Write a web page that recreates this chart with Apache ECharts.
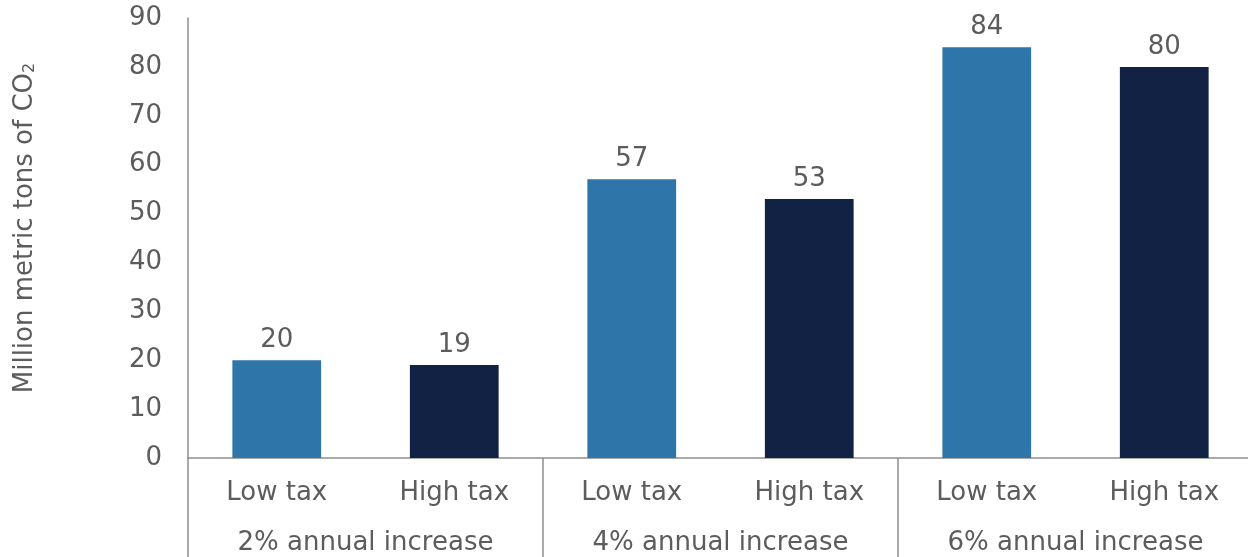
<!DOCTYPE html>
<html>
<head>
<meta charset="utf-8">
<script src="https://cdn.jsdelivr.net/npm/echarts@6/dist/echarts.min.js"></script>
<style>
  html, body { margin: 0; padding: 0; background: #ffffff; }
  #chart { width: 1248px; height: 557px; }
</style>
</head>
<body>
<div id="chart"></div>
<script>
// Scenario categories and emissions values (million metric tons of CO2)
const taxLevels = ['Low tax', 'High tax', 'Low tax', 'High tax', 'Low tax', 'High tax'];
const growthScenarios = ['2% annual increase', '4% annual increase', '6% annual increase'];
const emissions = [20, 19, 57, 53, 84, 80];
const yTicks = [0, 10, 20, 30, 40, 50, 60, 70, 80, 90];

const LOW_COLOR = '#2E75AA';
const HIGH_COLOR = '#112244';
const TEXT = '#5c5c5c';
const AXIS = '#8f8f8f';
const FONT = '"DejaVu Sans", sans-serif';
const SIZE = 26;

const chart = echarts.init(document.getElementById('chart'), null, { renderer: 'canvas' });

const barData = emissions.map((v, i) => ({
  value: v,
  itemStyle: { color: i % 2 === 0 ? LOW_COLOR : HIGH_COLOR }
}));

chart.setOption({
  animation: false,
  backgroundColor: '#ffffff',
  textStyle: { fontFamily: FONT },
  grid: {
    left: 188, top: 18, width: 1065, height: 440,
    containLabel: false, outerBoundsMode: 'none'
  },
  xAxis: [
    {
      type: 'category',
      data: taxLevels,
      position: 'bottom',
      axisLine: { show: true, lineStyle: { color: AXIS, width: 1.5 } },
      axisTick: { show: false },
      axisLabel: { color: TEXT, fontSize: SIZE, fontFamily: FONT, margin: 22, interval: 0 }
    },
    {
      type: 'category',
      data: growthScenarios,
      position: 'bottom',
      axisLine: { show: false },
      axisTick: { show: true, length: 100, lineStyle: { color: AXIS, width: 1.5 } },
      axisLabel: { color: TEXT, fontSize: SIZE, fontFamily: FONT, margin: 72, interval: 0 }
    }
  ],
  yAxis: {
    type: 'value',
    min: yTicks[0],
    max: yTicks[yTicks.length - 1],
    interval: yTicks[1] - yTicks[0],
    axisLine: { show: true, lineStyle: { color: AXIS, width: 1.5 } },
    axisTick: { show: false },
    splitLine: { show: false },
    axisLabel: { color: TEXT, fontSize: SIZE, fontFamily: FONT, margin: 26 }
  },
  graphic: [
    {
      type: 'text',
      x: 25,
      y: 228,
      rotation: Math.PI / 2,
      style: {
        text: '{a|Million metric tons of CO}{s|2}',
        align: 'center',
        verticalAlign: 'middle',
        rich: {
          a: { fontSize: 26, fontFamily: FONT, fill: TEXT, color: TEXT },
          s: { fontSize: 16, fontFamily: FONT, fill: TEXT, color: TEXT, verticalAlign: 'bottom', padding: [10, 0, 0, 0] }
        }
      }
    }
  ],
  series: [
    {
      type: 'bar',
      xAxisIndex: 0,
      data: barData,
      barWidth: '50%',
      label: {
        show: true,
        position: 'top',
        distance: 7,
        color: TEXT,
        fontSize: SIZE,
        fontFamily: FONT
      }
    }
  ]
});
</script>
</body>
</html>
